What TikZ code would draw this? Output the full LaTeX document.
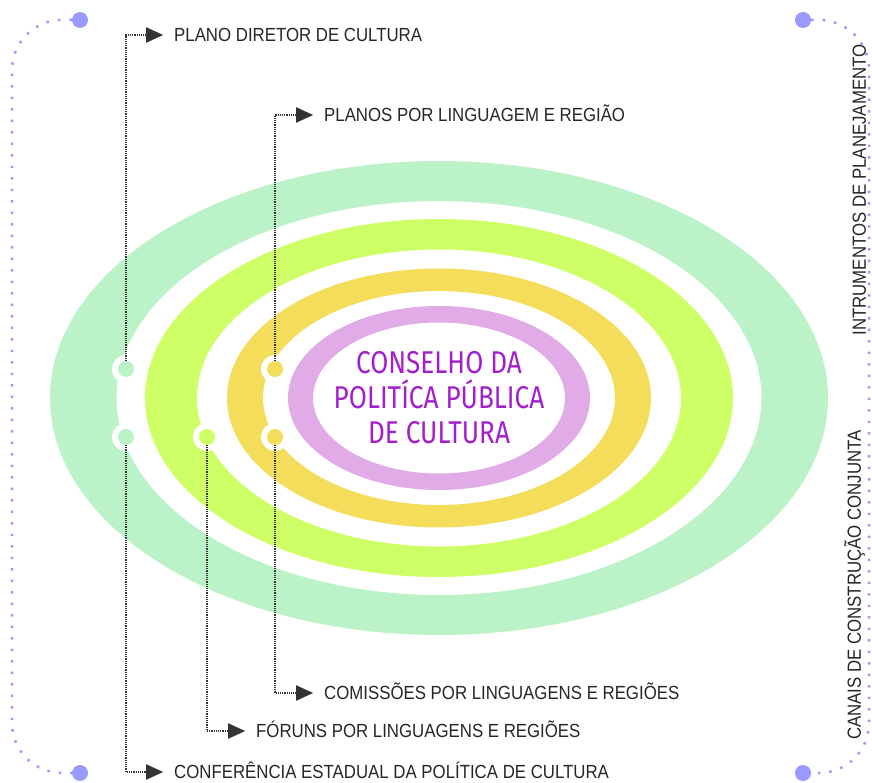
\documentclass[tikz,border=0pt]{standalone}
\usepackage{fontspec}
\setmainfont{Liberation Sans}[FakeStretch=0.885]
\newfontfamily\centerfont{Fira Sans}[FakeStretch=0.83]
\usetikzlibrary{arrows.meta}
\definecolor{ringgreen}{HTML}{BBF2C7}
\definecolor{ringlime}{HTML}{CFFF66}
\definecolor{ringyellow}{HTML}{F4DD5A}
\definecolor{ringpurple}{HTML}{E0ABE6}
\definecolor{bracketblue}{HTML}{9999FF}
\definecolor{titlepurple}{HTML}{A31FCC}
\definecolor{arrowgray}{HTML}{333333}
\tikzset{
  caption/.style={inner sep=0pt,text height=13.6pt,text depth=0pt,
    font=\fontsize{19}{19}\selectfont,text=black!85},
  bdot/.style={circle,fill=bracketblue,minimum size=16pt,inner sep=0pt},
  bracket/.style={draw=bracketblue,line width=2.5pt,dash pattern=on 2.5pt off 9pt,
    rounded corners=50pt},
  pointer/.style={draw=arrowgray,densely dotted,line width=1.2pt,
    -{Triangle[length=17pt,width=15.5pt,fill=arrowgray,line width=0.4pt]}}
}

\begin{document}
\begin{tikzpicture}[x=1pt,y=-1pt]
\useasboundingbox (0,0) rectangle (872,783);
\coordinate (c) at (439,398);
% rings
\fill[ringgreen,even odd rule] (c) ellipse [x radius=389pt,y radius=237pt]
  (c) ellipse [x radius=322.5pt,y radius=197pt];
\fill[ringlime,even odd rule] (c) ellipse [x radius=294pt,y radius=179pt]
  (c) ellipse [x radius=242pt,y radius=148.5pt];
\fill[ringyellow,even odd rule] (c) ellipse [x radius=212pt,y radius=129.5pt]
  (c) ellipse [x radius=176pt,y radius=107pt];
\fill[ringpurple,even odd rule] (c) ellipse [x radius=151pt,y radius=92pt]
  (c) ellipse [x radius=126pt,y radius=75.5pt];
\node[text=titlepurple,align=center,inner sep=0pt,
  font=\centerfont\fontsize{31.5}{35}\selectfont] (council) at (439,398)
  {CONSELHO DA\\POLITÍCA PÚBLICA\\DE CULTURA};
% dots on the rings
\begin{scope}[every node/.style={circle,minimum size=16pt,inner sep=0pt,outer sep=0pt,
              preaction={draw=white,line width=12pt}}]
    \node[fill=ringgreen] (gtop) at (126,369) {};
    \node[fill=ringgreen] (gbot) at (126,437) {};
    \node[fill=ringlime] (lbot) at (207,437) {};
    \node[fill=ringyellow] (ytop) at (275,369) {};
    \node[fill=ringyellow] (ybot) at (275,437) {};
\end{scope}
\begin{scope}[every node/.style={caption,anchor=west,inner xsep=11pt}]
    \node (diretor) at (163,35) {PLANO DIRETOR DE CULTURA};
    \node (planos) at (313,115) {PLANOS POR LINGUAGEM E REGIÃO};
    \node (comissoes) at (313,693) {COMISSÕES POR LINGUAGENS E REGIÕES};
    \node (foruns) at (245,731) {FÓRUNS POR LINGUAGENS E REGIÕES};
    \node (conferencia) at (163,772) {CONFERÊNCIA ESTADUAL DA POLÍTICA DE CULTURA};
\end{scope}
\node[caption,rotate=90] (instrumentos) at (859,190) {INTRUMENTOS DE PLANEJAMENTO};
\node[caption,rotate=90] (canais) at (854,585) {CANAIS DE CONSTRUÇÃO CONJUNTA};
% brackets
\node[bdot] (tl) at (80,20) {};
\node[bdot] (bl) at (80,773) {};
\node[bdot] (tr) at (803,20) {};
\node[bdot] (br) at (803,773) {};
\coordinate (lmid) at (12,400);
\coordinate (rmid) at (869,400);
\draw[bracket] (tl) -| (lmid) |- (bl);
\draw[bracket] (tr) -| (rmid) |- (br);
% pointers to the labels
\draw[pointer] (gtop) |- (diretor);
\draw[pointer] (ytop) |- (planos);
\draw[pointer] (ybot) |- (comissoes);
\draw[pointer] (lbot) |- (foruns);
\draw[pointer] (gbot) |- (conferencia);
\end{tikzpicture}
\end{document}
